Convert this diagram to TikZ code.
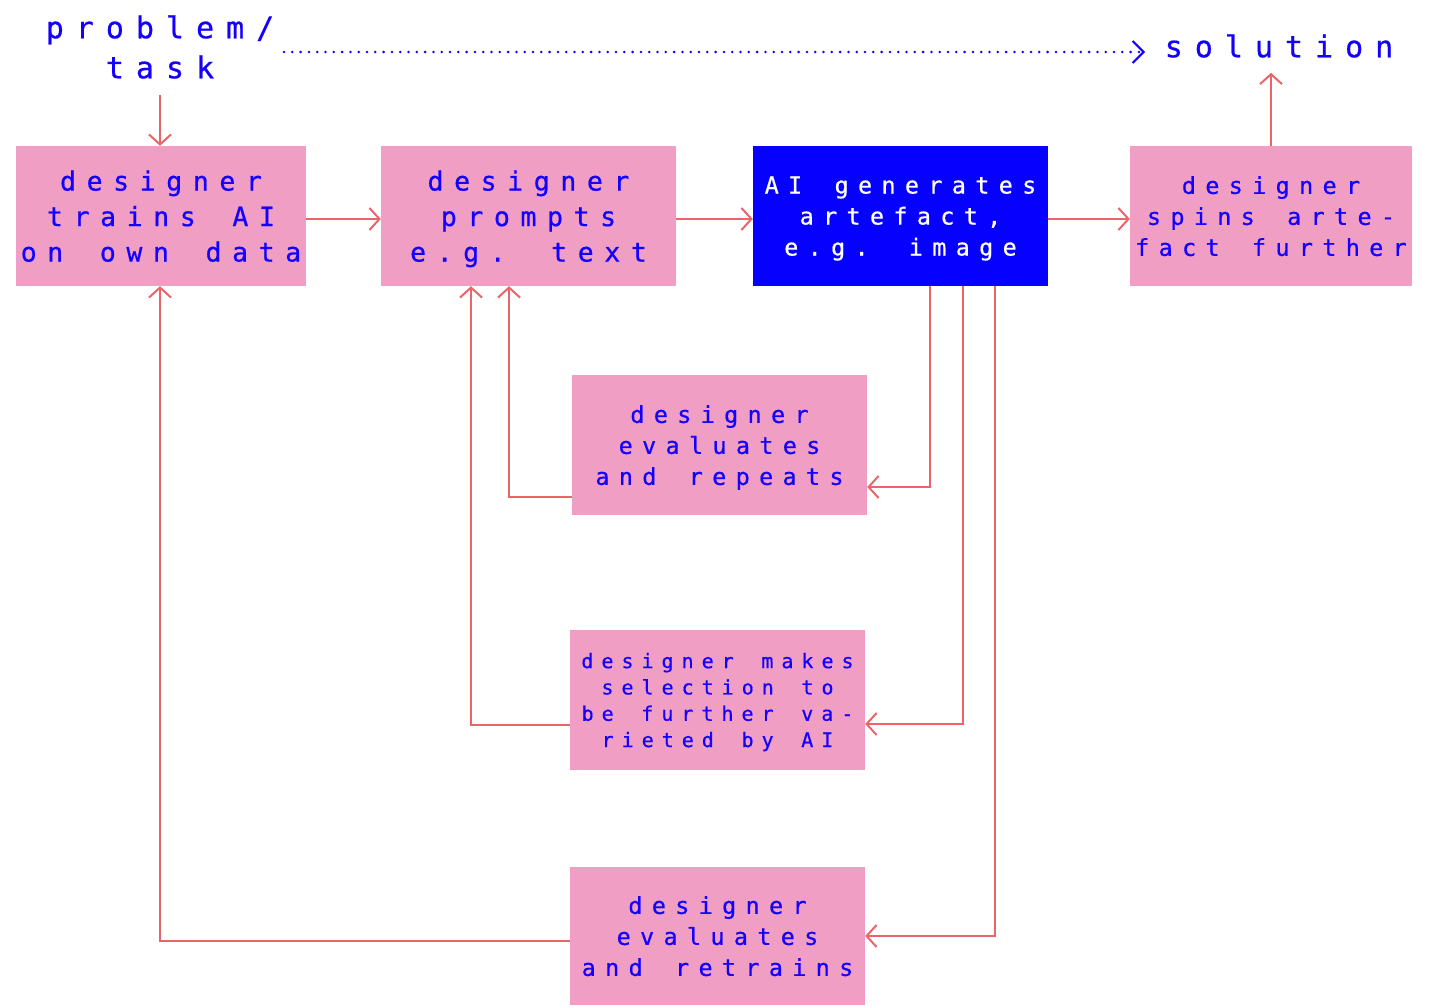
\documentclass[tikz,border=0pt]{standalone}
\usepackage{fontspec}
\usetikzlibrary{arrows.meta}
% letter-spaced cells; the word space is widened to about one full cell
\newfontfamily\dmono[LetterSpace=40,FakeBold=0.6,WordSpace={1.38,0,0}]{DejaVu Sans Mono}
\definecolor{inkblue}{RGB}{20,0,255}
\definecolor{boxpink}{RGB}{241,158,196}
\definecolor{linkred}{RGB}{234,100,106}
\definecolor{boxblue}{RGB}{5,0,255}
% monospaced, letter-spaced text at a given size and line pitch
\newcommand\mono[2]{\dmono\fontsize{#1pt}{#2pt}\selectfont}
\tikzset{
  stepbox/.style={fill=boxpink, text=inkblue, inner sep=0pt, align=center,
    minimum width=295pt, minimum height=140pt, text depth=0pt},
  bigtext/.style={font=\mono{26.5}{35.5}},
  midtext/.style={font=\mono{23.4}{31}},
  smalltext/.style={font=\mono{20}{26.3}},
  link/.style={draw=linkred, line width=2pt,
    -{Straight Barb[length=10pt,width=22pt,line width=2pt]}},
  dotlink/.style={draw=inkblue, line width=2.8pt, line cap=round,
    dash pattern=on 0pt off 8.3pt,
    -{Straight Barb[length=11pt,width=22pt,line width=2pt]}},
}
\begin{document}
\begin{tikzpicture}[x=1pt,y=-1pt]
\useasboundingbox (0,0) rectangle (1442,1006);

% start and goal
\node[text=inkblue, align=center, inner sep=0pt, font=\mono{30}{40}] (task) at (160,47) {problem/\\task};
\node[text=inkblue, inner sep=0pt, font=\mono{30}{40}] (solution) at (1279,46) {solution};
\coordinate (dotstart) at (284,52);
\coordinate (dotend) at (1145,52);

% top row
\node[stepbox, bigtext, minimum width=290pt] (train) at (161,216) {designer\\trains AI\\on own data};
\node[stepbox, bigtext] (prompt) at (528.5,216) {designer\\prompts\\e.g. text};
\node[stepbox, midtext, fill=boxblue, text=white] (generate) at (900.5,216) {AI generates\\artefact,\\e.g. image};
\node[stepbox, midtext, minimum width=282pt] (spin) at (1271,216) {designer\\spins arte-\\fact further};

% feedback steps
\node[stepbox, midtext] (repeat) at (719.5,445) {designer\\evaluates\\and repeats};
\node[stepbox, smalltext] (select) at (717.5,700) {designer makes\\selection to\\be further va-\\rieted by AI};
\node[stepbox, midtext, minimum height=138pt] (retrain) at (717.5,936) {designer\\evaluates\\and retrains};

% main flow
\draw[dotlink] (dotstart) -- (dotend);
\draw[link, shorten <=16pt] (task.south) -- (task.south |- train.north);
\draw[link] ([yshift=-3pt]train.east) -- ([yshift=-3pt]prompt.west);
\draw[link] ([yshift=-3pt]prompt.east) -- ([yshift=-3pt]generate.west);
\draw[link] ([yshift=-3pt]generate.east) -- ([yshift=-3pt]spin.west);
\draw[link] (spin.north) -- ++(0,-73);

% loops
\draw[link] ([xshift=29.5pt]generate.south) |- ([yshift=-42pt]repeat.east);
\draw[link] ([yshift=-52pt]repeat.west) -| ([xshift=-19.5pt]prompt.south);
\draw[link] ([xshift=62.5pt]generate.south) |- ([yshift=-24pt]select.east);
\draw[link] ([yshift=-25pt]select.west) -| ([xshift=-57.5pt]prompt.south);
\draw[link] ([xshift=94.5pt]generate.south) |- (retrain.east);
\draw[link] ([yshift=-5pt]retrain.west) -| ([xshift=-1pt]train.south);
\end{tikzpicture}
\end{document}
